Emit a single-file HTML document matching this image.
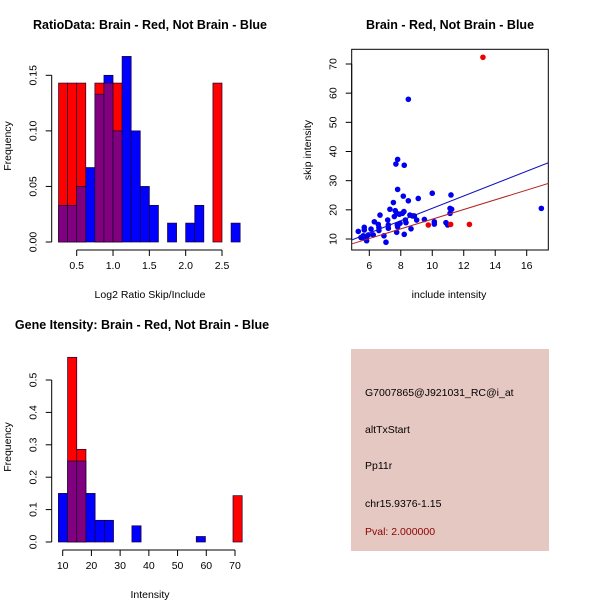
<!DOCTYPE html>
<html><head><meta charset="utf-8"><style>
body{margin:0;background:#fff;}
svg{display:block;font-family:"Liberation Sans",sans-serif;}
.t{font-weight:bold;font-size:12.5px;}
.l{font-size:10.5px;}
</style></head><body>
<svg id="s" width="600" height="600" xmlns="http://www.w3.org/2000/svg"></svg>
<script>
// ---- Data ----
const ratioBinStart = 0.25, ratioBinWidth = 0.125;
const ratioBlue = [0.033,0.033,0.05,0.067,0.133,0.15,0.10,0.167,0.10,0.05,0.033,0,0.017,0,0.017,0.033,0,0,0,0.017];
const ratioRed  = [0.143,0.143,0.143,0,0.143,0.143,0.143,0,0,0,0,0,0,0,0,0,0,0.143,0,0];
const ratioXTicks = [0.5,1.0,1.5,2.0,2.5];
const ratioXLabels = ["0.5","1.0","1.5","2.0","2.5"];
const ratioYTicks = [0,0.05,0.10,0.15];
const ratioYLabels = ["0.00","0.05","0.10","0.15"];

const intBinStart = 8.5, intBinWidth = 3.2;
const intBlue = [0.15,0.25,0.25,0.15,0.067,0.067,0,0,0.05,0,0,0,0,0,0,0.017,0,0,0,0];
const intRed  = [0,0.57,0.286,0,0,0,0,0,0,0,0,0,0,0,0,0,0,0,0,0.143];
const intXTicks = [10,20,30,40,50,60,70];
const intYTicks = [0,0.1,0.2,0.3,0.4,0.5];
const intYLabels = ["0.0","0.1","0.2","0.3","0.4","0.5"];

const blueX = [5.30,5.47,5.62,5.68,5.68,5.72,5.83,5.83,5.94,6.11,6.25,6.32,6.57,6.61,6.68,6.61,6.93,7.06,7.17,7.21,7.21,7.31,7.53,7.59,7.65,7.74,7.78,7.80,7.74,7.69,7.80,7.80,7.91,7.95,8.10,8.16,8.20,8.22,8.22,8.29,8.33,8.48,8.48,8.58,8.65,8.75,8.86,9.01,9.11,9.50,10.00,10.13,10.13,10.87,10.98,11.13,11.13,11.19,11.23,16.93];
const blueY = [12.6,10.5,11.1,14.0,13.1,10.2,10.8,9.4,11.4,13.4,11.4,15.9,15.0,13.9,18.2,12.9,11.1,8.9,16.5,14.8,13.7,20.2,22.5,17.7,19.7,18.8,14.8,14.2,12.3,35.7,37.3,27.0,18.5,15.4,18.8,24.7,19.4,35.3,11.6,16.5,15.6,23.1,57.9,18.2,13.5,17.9,17.9,16.5,23.9,16.7,25.7,15.9,15.1,15.6,14.8,18.8,20.5,25.1,20.2,20.5];
const redX = [9.75,11.17,12.36,13.22];
const redY = [14.8,15.0,15.0,72.3];
const blueFit = [-0.68, 2.12]; // intercept, slope
const redFit = [0.2, 1.66];
const scX = [6,8,10,12,14,16];
const scY = [10,20,30,40,50,60,70];

// ---- Helpers ----
const s = document.getElementById('s');
const NS = 'http://www.w3.org/2000/svg';
function el(tag, attrs, text){
  const e = document.createElementNS(NS, tag);
  for (const k in attrs) e.setAttribute(k, attrs[k]);
  if (text !== undefined) e.textContent = text;
  s.appendChild(e);
  return e;
}
function lin(d0,d1,p0,p1){return v=>p0+(v-d0)*(p1-p0)/(d1-d0);}

function axisX(ticks, labels, sx, y, name){
  const a = el('line',{x1:sx(ticks[0]),x2:sx(ticks[ticks.length-1]),y1:y,y2:y,stroke:'#000'});
  
  
  ticks.forEach((t,i)=>{
    el('line',{x1:sx(t),x2:sx(t),y1:y,y2:y+6,stroke:'#000'});
    const tx = el('text',{x:sx(t),y:y+19,'text-anchor':'middle',class:'l'},labels[i]);
    
    
  });
}
function axisY(ticks, labels, sy, x, name){
  const a = el('line',{x1:x,x2:x,y1:sy(ticks[0]),y2:sy(ticks[ticks.length-1]),stroke:'#000'});
  
  
  ticks.forEach((t,i)=>{
    el('line',{x1:x-6,x2:x,y1:sy(t),y2:sy(t),stroke:'#000'});
    const tx = el('text',{x:x-15,y:sy(t),'text-anchor':'middle',class:'l',transform:`rotate(-90 ${x-15} ${sy(t)})`},labels[i]);
    
    
  });
}
function hist(blue, red, start, w, sx, sy, name){
  for (let i=0;i<blue.length;i++){
    const b=blue[i], r=red[i];
    const x0=sx(start+i*w), x1=sx(start+(i+1)*w);
    const hi=Math.max(b,r), lo=Math.min(b,r);
    if (hi<=0) continue;
    const c = b>=r ? '#0000ff' : '#ff0000';
    const bar = el('rect',{x:x0,y:sy(hi),width:x1-x0,height:sy(0)-sy(hi),fill:c,stroke:'#1a0030','stroke-width':0.7});
    
    
    if (lo>0){
      const ov = el('rect',{x:x0,y:sy(lo),width:x1-x0,height:sy(0)-sy(lo),fill:'#800080',stroke:'#1a0030','stroke-width':0.7});
      
      
    }
  }
}
function txt(x,y,t,cls,name,extra){
  const e = el('text',Object.assign({x:x,y:y,'text-anchor':'middle',class:cls},extra||{}),t);
  
  
  return e;
}

// ---- Panel 1: ratio histogram ----
{
  const sx = lin(0.5,2.5,76.7,222.0), sy = lin(0,0.15,242,75.3);
  hist(ratioBlue, ratioRed, ratioBinStart, ratioBinWidth, sx, sy, 'ratio');
  axisX(ratioXTicks, ratioXLabels, sx, 250, 'ratio');
  axisY(ratioYTicks, ratioYLabels, sy, 51.7, 'ratio');
  txt(150,29,'RatioData: Brain - Red, Not Brain - Blue','t','ratio-title');
  txt(150,298,'Log2 Ratio Skip/Include','l','ratio-x-axis-title');
  txt(11,146,'Frequency','l','ratio-y-axis-title',{transform:'rotate(-90 11 146)'});
}
// ---- Panel 2: scatter ----
{
  const sx = lin(6,16,369.3,526.7), sy = lin(10,70,239,64);
  const cp = el('clipPath',{id:'cp'});
  const cr = document.createElementNS(NS,'rect');
  cr.setAttribute('x',351.7);cr.setAttribute('y',49.3);cr.setAttribute('width',196.6);cr.setAttribute('height',200.7);
  cp.appendChild(cr);
  const bx = el('rect',{x:351.7,y:49.3,width:196.6,height:200.7,fill:'none',stroke:'#000'});
  
  
  axisX(scX, scX.map(String), sx, 250, 'scatter');
  axisY(scY, scY.map(String), sy, 351.7, 'scatter');
  blueX.forEach((x,i)=>{
    const c = el('circle',{cx:sx(x),cy:sy(blueY[i]),r:2.8,fill:'#0000ee'});
    
    
  });
  redX.forEach((x,i)=>{
    const c = el('circle',{cx:sx(x),cy:sy(redY[i]),r:2.8,fill:'#ee0000'});
    
    
  });
  const xa = 4.88, xb = 17.42;
  const bl = el('line',{x1:sx(xa),y1:sy(blueFit[0]+blueFit[1]*xa),x2:sx(xb),y2:sy(blueFit[0]+blueFit[1]*xb),stroke:'#1010c0','stroke-width':1,'clip-path':'url(#cp)'});
  
  
  const rl = el('line',{x1:sx(xa),y1:sy(redFit[0]+redFit[1]*xa),x2:sx(xb),y2:sy(redFit[0]+redFit[1]*xb),stroke:'#b22222','stroke-width':1,'clip-path':'url(#cp)'});
  
  
  txt(450,29,'Brain - Red, Not Brain - Blue','t','scatter-title');
  txt(449,298,'include intensity','l','scatter-x-axis-title');
  txt(311,150,'skip intensity','l','scatter-y-axis-title',{transform:'rotate(-90 311 150)'});
}
// ---- Panel 3: intensity histogram ----
{
  const sx = lin(10,70,62.7,235), sy = lin(0,0.5,542,380);
  hist(intBlue, intRed, intBinStart, intBinWidth, sx, sy, 'intensity');
  axisX(intXTicks, intXTicks.map(String), sx, 550, 'intensity');
  axisY(intYTicks, intYLabels, sy, 51.7, 'intensity');
  txt(142,329,'Gene Itensity: Brain - Red, Not Brain - Blue','t','intensity-title');
  txt(150,598,'Intensity','l','intensity-x-axis-title');
  txt(11,447,'Frequency','l','intensity-y-axis-title',{transform:'rotate(-90 11 447)'});
}
// ---- Panel 4: info box ----
{
  const r = el('rect',{x:351,y:349,width:198,height:202,fill:'#e6c8c2'});
  
  
  const lines = [['G7007865@J921031_RC@i_at',396,'#000','probe-id'],['altTxStart',433,'#000','event-type'],['Pp11r',469,'#000','gene-name'],['chr15.9376-1.15',507,'#000','location'],['Pval: 2.000000',535,'#8b0000','p-value']];
  lines.forEach(l=>{
    const t = el('text',{x:365,y:l[1],fill:l[2],class:'l'},l[0]);
    
    
  });
}
</script>
</body></html>
